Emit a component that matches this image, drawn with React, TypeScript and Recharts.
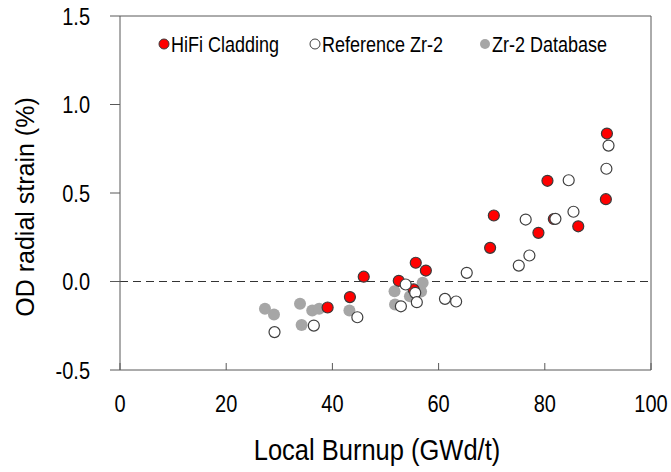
import React from 'react';
import { ScatterChart, Scatter, XAxis, YAxis, ReferenceLine, Legend, Label } from 'recharts';

const xTicks = [0, 20, 40, 60, 80, 100];
const yTicks = [-0.5, 0, 0.5, 1.0, 1.5];

// HiFi cladding measurements
const hifiBurnup = [39.1, 43.3, 45.9, 52.5, 55.3, 55.7, 57.6, 69.7, 70.4, 78.8, 80.5, 81.7, 86.3, 91.5, 91.7];
const hifiStrain = [-0.147, -0.088, 0.027, 0.004, -0.045, 0.106, 0.062, 0.19, 0.373, 0.275, 0.569, 0.353, 0.312, 0.465, 0.836];

// reference Zr-2 rods
const refBurnup = [29.1, 36.5, 44.7, 53.8, 52.9, 55.6, 55.9, 61.2, 63.3, 65.3, 75.1, 77.1, 76.4, 82.0, 85.4, 84.5, 91.6, 92.0];
const refStrain = [-0.286, -0.249, -0.202, -0.017, -0.14, -0.064, -0.117, -0.098, -0.113, 0.049, 0.09, 0.147, 0.35, 0.354, 0.394, 0.572, 0.637, 0.768];

// Zr-2 database
const dbBurnup = [27.3, 29.0, 33.9, 34.2, 36.2, 37.5, 43.2, 51.7, 51.8, 54.6, 57.0, 56.7];
const dbStrain = [-0.154, -0.186, -0.126, -0.246, -0.164, -0.154, -0.164, -0.055, -0.13, -0.083, -0.007, -0.056];

const toPoints = (xs: number[], ys: number[]) => xs.map((x, i) => ({ burnup: x, strain: ys[i] }));

const FONT = '"Liberation Sans", Arial, sans-serif';
const AXIS = '#595959';
const STRETCH = 1.18; // tall, narrow lettering

const series = [
  { name: 'HiFi Cladding', fill: '#ff0000', stroke: '#3a3a3a', data: toPoints(hifiBurnup, hifiStrain) },
  { name: 'Reference Zr-2', fill: '#ffffff', stroke: '#3f3f3f', data: toPoints(refBurnup, refStrain) },
  { name: 'Zr-2 Database', fill: '#a6a6a6', stroke: 'none', data: toPoints(dbBurnup, dbStrain) },
];

// database underneath, then HiFi, open reference circles on top
const drawOrder = [series[2], series[0], series[1]];
const legendX = [14, 165, 335];

const TallText = ({ x, y, size, anchor = 'start', children }: any) => (
  <text
    transform={`translate(${x}, ${y}) scale(1, ${STRETCH})`}
    textAnchor={anchor}
    fontSize={size}
    fill="#000"
    fontFamily={FONT}
  >
    {children}
  </text>
);

const XTick = ({ x, y, payload }: any) => (
  <g>
    <line x1={x} y1={y} x2={x} y2={y - 7} stroke={AXIS} />
    <TallText x={x} y={y + 42} size={20} anchor="middle">
      {payload.value}
    </TallText>
  </g>
);

const YTick = ({ x, y, payload }: any) => (
  <TallText x={x} y={y + 8.5} size={20} anchor="end">
    {payload.value.toFixed(1)}
  </TallText>
);

const renderLegend = () => (
  <svg width={480} height={32}>
    {series.map((s, i) => (
      <g key={s.name}>
        <circle cx={legendX[i]} cy={14} r={5} fill={s.fill} stroke={s.stroke} strokeWidth={1} />
        <TallText x={legendX[i] + 7} y={21.5} size={18}>
          {s.name}
        </TallText>
      </g>
    ))}
  </svg>
);

export default function App() {
  return (
    <div style={{ position: 'absolute', left: 0, top: 0, background: '#fff' }}>
      <ScatterChart width={671} height={472} margin={{ top: 16, right: 20, bottom: 0, left: 0 }}>
        <XAxis
          type="number"
          dataKey="burnup"
          domain={[0, 100]}
          ticks={xTicks}
          height={102}
          stroke={AXIS}
          tickLine={false}
          tickSize={0}
          tickMargin={0}
          tick={<XTick />}
        >
          <Label
            content={() => (
              <TallText x={377} y={460} size={25.5} anchor="middle">
                Local Burnup (GWd/t)
              </TallText>
            )}
          />
        </XAxis>
        <YAxis
          type="number"
          dataKey="strain"
          domain={[-0.5, 1.5]}
          ticks={yTicks}
          width={120}
          stroke={AXIS}
          tickSize={10}
          tickMargin={20}
          tick={<YTick />}
        >
          <Label
            content={() => (
              <text
                transform="translate(34, 207) rotate(-90)"
                textAnchor="middle"
                fontSize={25}
                fill="#000"
                fontFamily={FONT}
              >
                OD radial strain (%)
              </text>
            )}
          />
        </YAxis>
        <ReferenceLine y={1.5} stroke={AXIS} />
        <ReferenceLine x={100} stroke={AXIS} />
        <ReferenceLine y={0} stroke="#333" strokeDasharray="8 5" />
        {drawOrder.map((s) => (
          <Scatter
            key={s.name}
            name={s.name}
            data={s.data}
            isAnimationActive={false}
            shape={(p: any) => (
              <circle cx={p.cx} cy={p.cy} r={s.stroke === 'none' ? 6 : 5.5} fill={s.fill} stroke={s.stroke} strokeWidth={1.2} />
            )}
          />
        ))}
        <Legend
          layout="horizontal"
          verticalAlign="middle"
          align="center"
          wrapperStyle={{ top: 30, left: 150, width: 480 }}
          content={renderLegend}
        />
      </ScatterChart>
    </div>
  );
}
